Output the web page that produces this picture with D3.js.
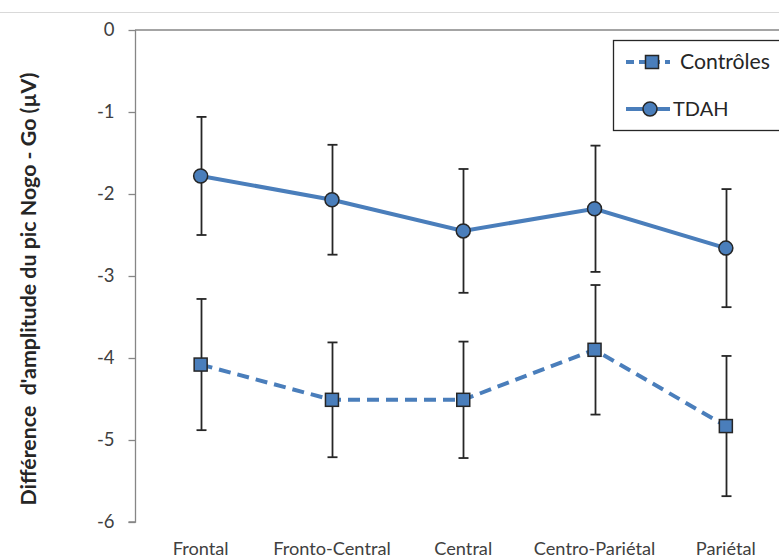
<!DOCTYPE html>
<html><head><meta charset="utf-8">
<script src="https://cdn.jsdelivr.net/npm/d3@7"></script>
<style>body{margin:0;background:#fff}svg{display:block}</style>
</head><body>
<svg id="c" width="779" height="560"></svg>
<script>
const categories = ["Frontal","Fronto-Central","Central","Centro-Pariétal","Pariétal"];
const tdahMean = [-1.78,-2.07,-2.45,-2.18,-2.66];
const tdahErr = [0.72,0.67,0.755,0.77,0.72];
const ctrlMean = [-4.08,-4.51,-4.51,-3.90,-4.83];
const ctrlErr = [0.80,0.70,0.71,0.79,0.855];
const yTicks = [0,-1,-2,-3,-4,-5,-6];
const yTitle = "Différence\u00a0 d'amplitude du pic Nogo - Go (µV)";
const seriesNames = ["Contrôles","TDAH"];

const svg = d3.select("#c");
const font = "Lato, 'Liberation Sans', sans-serif";
const blue = "#4A7EBB";
const x = d3.scaleBand().domain(categories).range([135, 135 + 5*131.3]);
const y = d3.scaleLinear().domain([0,-6]).range([30,522]);

// fit a text element to a target width (matching the reference's measured text widths)
function fit(sel, target){
  sel.each(function(){
    const w = this.getComputedTextLength();
    const fs = parseFloat(this.getAttribute("font-size"));
    if (w > 0) this.setAttribute("font-size", (fs*target/w).toFixed(2));
  });
}

svg.append("line").attr("x1",0).attr("x2",779).attr("y1",12.5).attr("y2",12.5)
  .attr("stroke","#d9d9d9").attr("stroke-width",1);

const yAxis = svg.append("g").attr("transform","translate(135.5,0)")
  .call(d3.axisLeft(y).tickValues(yTicks).tickSize(7).tickPadding(14).tickFormat(d3.format("d")));
yAxis.select(".domain").attr("stroke","#868686").attr("stroke-width",1.3).attr("d","M0,"+y(0)+"V"+y(-6)+"H-7");
yAxis.selectAll(".tick line").attr("stroke","#868686").attr("stroke-width",1.3);
yAxis.selectAll(".tick text").attr("font-family",font).attr("font-size",18.5).attr("fill","#404040")
  .text(d=> d===0 ? "0" : "-" + Math.abs(d));

svg.append("line").attr("x1",135).attr("x2",779).attr("y1",y(0)).attr("y2",y(0))
  .attr("stroke","#868686").attr("stroke-width",1.3);

const xl = svg.append("g").selectAll("text").data(categories).join("text")
  .attr("x",d=>x(d)+x.bandwidth()/2).attr("y",555)
  .attr("text-anchor","middle").attr("font-family",font).attr("font-size",18).attr("fill","#404040")
  .text(d=>d);
fit(xl.filter(d=>d==="Frontal"), 56);
const fsx = xl.filter(d=>d==="Frontal").attr("font-size");
xl.attr("font-size", fsx);

const tt = svg.append("text").attr("transform","translate(36,289) rotate(-90)")
  .attr("text-anchor","middle").attr("font-family",font).attr("font-weight","bold")
  .attr("font-size",18).attr("fill","#262626").text(yTitle);
fit(tt, 433);

const cx = d=>x(d)+x.bandwidth()/2;
const series = [
  {name:seriesNames[0], mean:ctrlMean, err:ctrlErr, dash:"12,7", marker:"square"},
  {name:seriesNames[1], mean:tdahMean, err:tdahErr, dash:null, marker:"circle"}
];
const line = d3.line().x(d=>cx(d.c)).y(d=>y(d.v));
series.forEach(s=>{
  const pts = categories.map((c,i)=>({c, v:s.mean[i], e:s.err[i]}));
  svg.append("path").datum(pts).attr("d",line).attr("fill","none")
    .attr("stroke",blue).attr("stroke-width",4).attr("stroke-dasharray",s.dash);
  s.pts = pts;
});
series.forEach(s=>{
  const g = svg.append("g").attr("stroke","#262626").attr("stroke-width",1.8);
  s.pts.forEach(p=>{
    const xx = Math.round(cx(p.c))+0.5;
    g.append("line").attr("x1",xx).attr("x2",xx).attr("y1",y(p.v+p.e)).attr("y2",y(p.v-p.e));
    [p.v+p.e,p.v-p.e].forEach(v=>g.append("line").attr("x1",xx-5).attr("x2",xx+5).attr("y1",y(v)).attr("y2",y(v)));
  });
});
function drawMarker(g,type,px,py){
  if(type==="circle") g.append("circle").attr("cx",px).attr("cy",py).attr("r",7)
    .attr("fill",blue).attr("stroke","#262626").attr("stroke-width",1.5);
  else g.append("rect").attr("x",px-6.5).attr("y",py-6.5).attr("width",13).attr("height",13)
    .attr("fill",blue).attr("stroke","#262626").attr("stroke-width",1.5);
}
series.forEach(s=>{
  const g = svg.append("g");
  s.pts.forEach(p=>drawMarker(g,s.marker,cx(p.c),y(p.v)));
});

const lg = svg.append("g");
lg.append("rect").attr("x",613.5).attr("y",40.5).attr("width",190).attr("height",90)
  .attr("fill","#fff").attr("stroke","#262626").attr("stroke-width",1.3);
series.forEach((s,i)=>{
  const ly = 62 + i*47;
  lg.append("line").attr("x1",626).attr("x2",670).attr("y1",ly).attr("y2",ly)
    .attr("stroke",blue).attr("stroke-width",4).attr("stroke-dasharray",s.dash? "8,5":null);
  drawMarker(lg,s.marker,i===0?652:650,ly);
  const t = lg.append("text").attr("x",i===0?680:673).attr("y",ly+7).attr("font-family",font)
    .attr("font-size",20).attr("fill","#262626").text(s.name);
  if(i===0) fit(t, 90);
});
</script>
</body></html>
